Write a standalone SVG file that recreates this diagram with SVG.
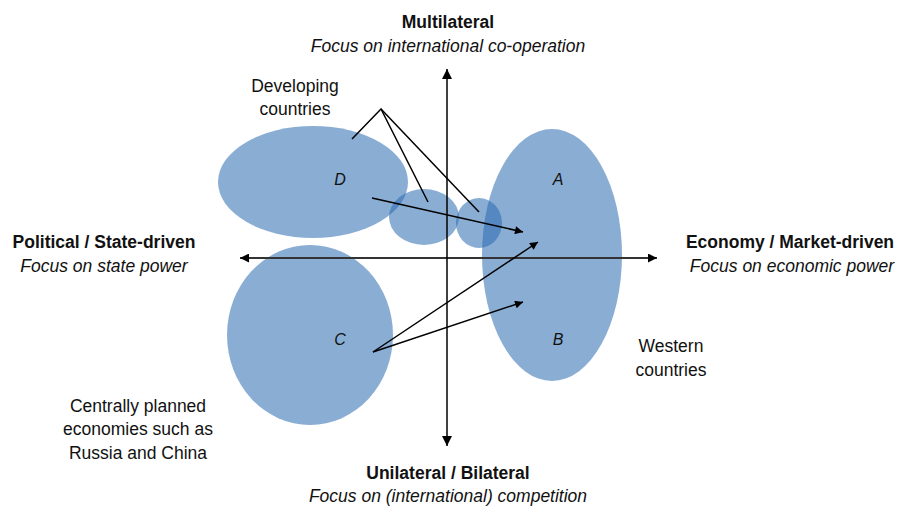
<svg xmlns="http://www.w3.org/2000/svg" width="898" height="506" viewBox="0 0 898 506">
<defs>
<marker id="ah" viewBox="0 0 10 10" refX="10" refY="5" markerWidth="10" markerHeight="8" markerUnits="userSpaceOnUse" orient="auto">
<path d="M0,0 L10,5 L0,10 z" fill="#000"/>
</marker>
<marker id="ab" viewBox="0 0 10 10" refX="10" refY="5" markerWidth="16" markerHeight="10" markerUnits="userSpaceOnUse" orient="auto-start-reverse">
<path d="M0,0 L10,5 L0,10 z" fill="#000"/>
</marker>
<marker id="ax" viewBox="0 0 10 10" refX="10" refY="5" markerWidth="16" markerHeight="9" markerUnits="userSpaceOnUse" orient="auto-start-reverse">
<path d="M0,0 L10,5 L0,10 z" fill="#000"/>
</marker>
</defs>
<style>
.blob{fill:#2a6ab0;fill-opacity:0.55;stroke:none}
text{font-family:"Liberation Sans",Arial,sans-serif;font-size:17.5px;fill:#111}
.b{font-weight:bold;text-anchor:middle}
.i{font-style:italic;text-anchor:middle}
.n{text-anchor:middle}
.lab{font-style:italic;text-anchor:middle;font-size:16px}
.ln{stroke:#000;stroke-width:1.5;fill:none}
</style>
<g id="node-D"><ellipse class="blob" cx="313" cy="182" rx="95" ry="56"/><text class="lab" x="340" y="185">D</text></g>
<g id="node-dev1"><ellipse class="blob" cx="424" cy="217" rx="35" ry="28"/></g>
<g id="node-dev2"><ellipse class="blob" cx="479" cy="223" rx="23" ry="25"/></g>
<g id="node-AB"><ellipse class="blob" cx="552" cy="255" rx="70" ry="126"/><text class="lab" x="558" y="185">A</text><text class="lab" x="558" y="345">B</text></g>
<g id="node-C"><ellipse class="blob" cx="310" cy="335" rx="83" ry="90"/><text class="lab" x="340" y="345">C</text></g>
<g id="connectors">
<line x1="240" y1="258" x2="657" y2="258" stroke="#333" stroke-width="2" marker-start="url(#ax)" marker-end="url(#ax)"/>
<line x1="447" y1="69" x2="447" y2="446" stroke="#000" stroke-width="1.5" marker-start="url(#ab)" marker-end="url(#ab)"/>
<polyline class="ln" points="352,139 381,109 428,202"/>
<line class="ln" x1="381" y1="109" x2="479" y2="212"/>
<line class="ln" x1="372" y1="198" x2="523" y2="232" marker-end="url(#ah)"/>
<line class="ln" x1="373" y1="352" x2="538" y2="242" marker-end="url(#ah)"/>
<line class="ln" x1="373" y1="352" x2="523" y2="302" marker-end="url(#ah)"/>
</g>
<g id="labels">
<text class="b" x="448" y="28">Multilateral</text>
<text class="i" x="448" y="52">Focus on international co-operation</text>
<text class="n" x="295" y="92">Developing</text>
<text class="n" x="295" y="115">countries</text>
<text class="b" x="104" y="248">Political / State-driven</text>
<text class="i" x="104" y="272">Focus on state power</text>
<text class="b" x="790" y="248">Economy / Market-driven</text>
<text class="i" x="792" y="272">Focus on economic power</text>
<text class="n" x="671" y="352">Western</text>
<text class="n" x="671" y="376">countries</text>
<text class="n" x="138" y="412">Centrally planned</text>
<text class="n" x="138" y="435">economies such as</text>
<text class="n" x="138" y="459">Russia and China</text>
<text class="b" x="448" y="479">Unilateral / Bilateral</text>
<text class="i" x="448" y="502">Focus on (international) competition</text>
</g>
</svg>
